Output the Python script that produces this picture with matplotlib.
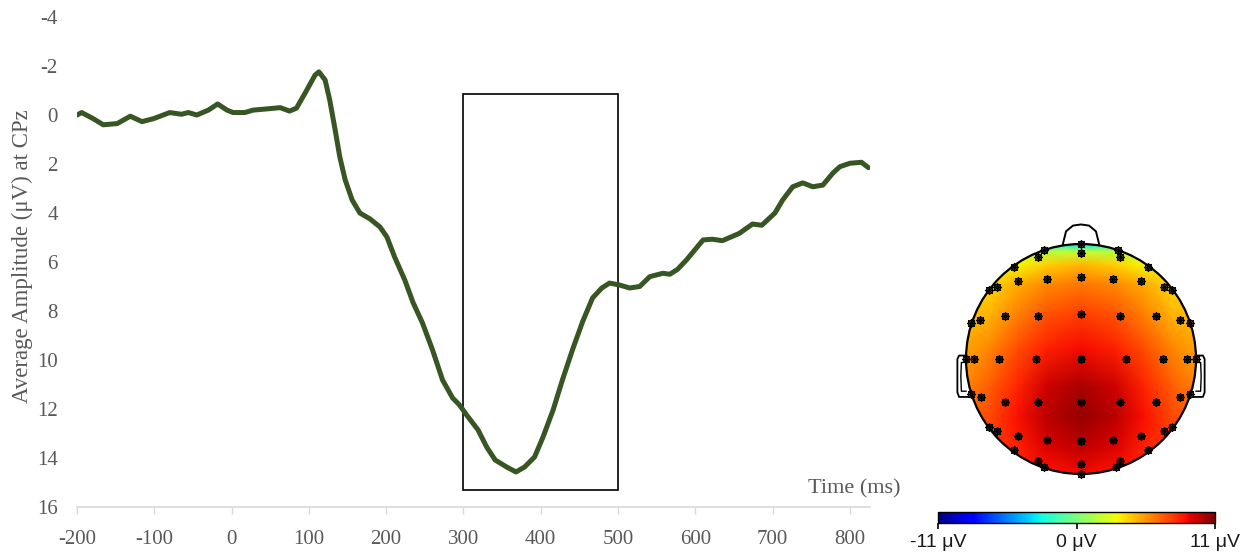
import numpy as np
import matplotlib
matplotlib.use("Agg")
import matplotlib.pyplot as plt
from matplotlib.patches import Rectangle, Circle
from matplotlib.cm import ScalarMappable
from matplotlib.colors import Normalize

# ---------------- ERP waveform (CPz) ----------------
time_ms = [-200, -194, -179, -166, -148, -131, -116, -101, -80, -65, -56, -45, -30, -18,
           -6, 2, 17, 28, 46, 63, 75, 84, 97, 108, 113, 121, 127, 134, 140, 147, 156,
           166, 179, 192, 201, 211, 224, 235, 247, 260, 273, 286, 295, 304, 319, 330,
           341, 356, 368, 379, 392, 403, 416, 428, 441, 454, 467, 479, 489, 502, 515,
           528, 541, 558, 567, 577, 589, 610, 622, 635, 657, 674, 686, 703, 713, 726,
           739, 752, 765, 778, 787, 800, 815, 824]
amplitude_uv = [0.0, -0.1, 0.15, 0.4, 0.35, 0.05, 0.27, 0.15, -0.1, -0.03, -0.1, 0.0, -0.2,
                -0.45, -0.2, -0.1, -0.1, -0.2, -0.25, -0.3, -0.16, -0.28, -1.0, -1.63, -1.76,
                -1.43, -0.61, 0.61, 1.71, 2.65, 3.47, 4.0, 4.24, 4.57, 4.98, 5.8, 6.73, 7.67,
                8.49, 9.59, 10.82, 11.55, 11.84, 12.24, 12.86, 13.55, 14.08, 14.37, 14.57,
                14.37, 13.96, 13.14, 12.04, 10.82, 9.59, 8.45, 7.47, 7.06, 6.86, 6.94, 7.06,
                7.0, 6.6, 6.46, 6.5, 6.3, 5.9, 5.1, 5.07, 5.13, 4.83, 4.45, 4.5, 4.0, 3.47,
                2.93, 2.77, 2.93, 2.86, 2.37, 2.11, 1.97, 1.93, 2.15]

x_ticks = [-200, -100, 0, 100, 200, 300, 400, 500, 600, 700, 800]
y_ticks = [-4, -2, 0, 2, 4, 6, 8, 10, 12, 14, 16]
window_ms = [300, 500]
window_uv = [-0.86, 15.3]

# ---------------- Topography (300-500 ms) ----------------
topo_x = [-1.0, -0.8, -0.55, -0.3, 0.0, 0.3, 0.55, 0.8, 1.0]
topo_y = [1.0, 0.93, 0.82, 0.65, 0.4, 0.1, -0.25, -0.5, -0.75, -1.0]
topo_values = [
    [1.5, 1.5, 0.5, -1.5, -3.5, -1.5, 0.5, 1.5, 1.5],
    [2.5, 2.5, 2.0, 1.6, 2.0, 1.6, 2.0, 2.5, 2.5],
    [3.0, 3.0, 3.2, 4.2, 4.8, 4.2, 3.2, 3.0, 3.0],
    [3.8, 4.0, 5.0, 5.8, 6.2, 5.8, 5.0, 4.0, 3.8],
    [4.6, 4.8, 6.0, 7.0, 7.5, 7.0, 6.0, 4.8, 4.6],
    [5.2, 5.8, 7.2, 8.2, 8.7, 8.2, 7.2, 5.8, 5.2],
    [6.0, 6.8, 8.2, 9.5, 10.2, 9.5, 8.2, 6.8, 6.0],
    [6.8, 7.3, 8.6, 9.8, 10.5, 9.8, 8.6, 7.3, 6.8],
    [7.5, 7.7, 8.3, 9.2, 9.8, 9.2, 8.3, 7.7, 7.5],
    [8.0, 8.0, 8.2, 8.5, 8.8, 8.5, 8.2, 8.0, 8.0],
]
elec_x = [0.00, 0.00, -0.32, -0.37, 0.32, 0.34,
          -0.58, 0.58, -0.55, -0.30, 0.00, 0.28, 0.52, -0.80, -0.73, 0.72, 0.79,
          -0.96, -0.88, -0.66, -0.37, 0.00, 0.34, 0.65, 0.86, 0.95,
          -1.00, -0.93, -0.71, -0.39, 0.00, 0.39, 0.71, 0.92, 1.00,
          -0.96, -0.87, -0.66, -0.37, 0.00, 0.34, 0.65, 0.86, 0.95,
          -0.80, -0.73, -0.55, -0.30, 0.00, 0.28, 0.52, 0.72, 0.79,
          -0.58, -0.37, -0.32, 0.00, 0.00, 0.34, 0.30, 0.58]
elec_y = [1.00, 0.92, 0.95, 0.89, 0.95, 0.89,
          0.80, 0.80, 0.68, 0.70, 0.71, 0.70, 0.68, 0.60, 0.63, 0.63, 0.60,
          0.31, 0.34, 0.37, 0.37, 0.39, 0.37, 0.37, 0.34, 0.31,
          0.00, 0.00, 0.00, 0.00, 0.00, 0.00, 0.00, 0.00, 0.00,
          -0.30, -0.33, -0.37, -0.37, -0.37, -0.37, -0.37, -0.33, -0.30,
          -0.59, -0.63, -0.67, -0.70, -0.71, -0.70, -0.67, -0.63, -0.59,
          -0.79, -0.89, -0.94, -0.91, -1.00, -0.89, -0.94, -0.79]
cbar_ticks = [-11, 0, 11]
cbar_labels = ["-11 μV", "0 μV", "11 μV"]

W, H = 1255, 557
fig = plt.figure(figsize=(W / 100, H / 100), dpi=100)
fig.patch.set_facecolor("white")

serif = ["Liberation Serif", "DejaVu Serif"]
gray = "#595959"

# ---------------- waveform axes ----------------
ax = fig.add_axes([77 / W, (H - 507) / H, (870 - 77) / W, (507 - 17) / H])
ax.plot(time_ms, amplitude_uv, color="#375623", lw=3.6, solid_capstyle="round",
        solid_joinstyle="round")
ax.set_xlim(-200, 826)
ax.set_ylim(16, -4)
ax.add_patch(Rectangle((window_ms[0], window_uv[0]), window_ms[1] - window_ms[0],
                       window_uv[1] - window_uv[0], fill=False, ec="black", lw=1.2))
for s in ["left", "right", "top"]:
    ax.spines[s].set_visible(False)
ax.spines["bottom"].set_color("#d9d9d9")
ax.spines["bottom"].set_linewidth(1.2)
ax.set_xticks(x_ticks)
ax.set_yticks(y_ticks)
ax.set_xticklabels([str(t) for t in x_ticks], family=serif, fontsize=15, color=gray)
ax.set_yticklabels([str(t) for t in y_ticks], family=serif, fontsize=15, color=gray)
ax.tick_params(axis="x", length=5, width=1.0, color="#d9d9d9", pad=11.5)
ax.tick_params(axis="y", length=0, pad=13.7)
ax.set_ylabel("Average Amplitude (μV) at CPz", family=serif, fontsize=16.5, color=gray)
ax.yaxis.set_label_coords((33 - 77) / (870 - 77), (507 - 256) / 490)
fig.text(900 / W, 1 - 489 / H, "Time (ms)", family=serif, fontsize=16, color=gray,
         ha="right", va="center")

# ---------------- topography axes ----------------
cx, cy, r = 1081, 359, 115
xl, xr, yb, yt = -1.25, 1.25, -1.25, 1.4
ax2 = fig.add_axes([(cx + xl * r) / W, (H - (cy - yb * r)) / H, (xr - xl) * r / W,
                    (yt - yb) * r / H])
ax2.set_xlim(xl, xr)
ax2.set_ylim(yb, yt)
ax2.axis("off")
TX, TY = np.meshgrid(topo_x, topo_y)
mesh = ax2.pcolormesh(TX, TY, np.array(topo_values), cmap="jet", vmin=-11, vmax=11,
                      shading="gouraud", zorder=1)
mesh.set_clip_path(Circle((0, 0), 1.0, transform=ax2.transData))
ax2.add_patch(Circle((0, 0), 1.0, fill=False, ec="black", lw=1.6, zorder=3))
# nose
ax2.plot([-0.16, -0.13, -0.07, 0.0, 0.07, 0.13, 0.16],
         [0.99, 1.11, 1.16, 1.17, 1.16, 1.11, 0.99], color="black", lw=1.4, zorder=3)
# ears
for sgn in (-1, 1):
    ax2.plot([sgn * 0.995, sgn * 1.06, sgn * 1.075, sgn * 1.075, sgn * 1.06, sgn * 0.99],
             [0.03, 0.03, 0.0, -0.29, -0.33, -0.33], color="black", lw=1.3, zorder=3)
    ax2.plot([sgn * 1.0, sgn * 1.04, sgn * 1.045, sgn * 1.04, sgn * 1.0],
             [-0.03, -0.03, -0.15, -0.28, -0.28], color="black", lw=1.0, zorder=3)
ax2.plot(elec_x, elec_y, ls="none", marker=(8, 2, 0), ms=6.5, mec="black", mew=0.7,
         zorder=4)
ax2.plot(elec_x, elec_y, ls="none", marker="o", ms=4.4, mfc="none", mec="black",
         mew=1.2, zorder=5)

# ---------------- colour bar ----------------
cax = fig.add_axes([938 / W, (H - 523) / H, (1215 - 938) / W, 11 / H])
cb = fig.colorbar(ScalarMappable(norm=Normalize(-11, 11), cmap="jet"), cax=cax,
                  orientation="horizontal")
cb.outline.set_edgecolor("black")
cb.outline.set_linewidth(1.0)
cb.set_ticks(cbar_ticks)
cb.set_ticklabels(cbar_labels)
cax.tick_params(axis="x", length=4, width=1.2, color="black", pad=4,
                labelsize=14, labelcolor="#1a1a1a")
for lab in cax.get_xticklabels():
    lab.set_family(["Liberation Sans", "DejaVu Sans"])

fig.savefig("out.png", dpi=100, facecolor="white")
